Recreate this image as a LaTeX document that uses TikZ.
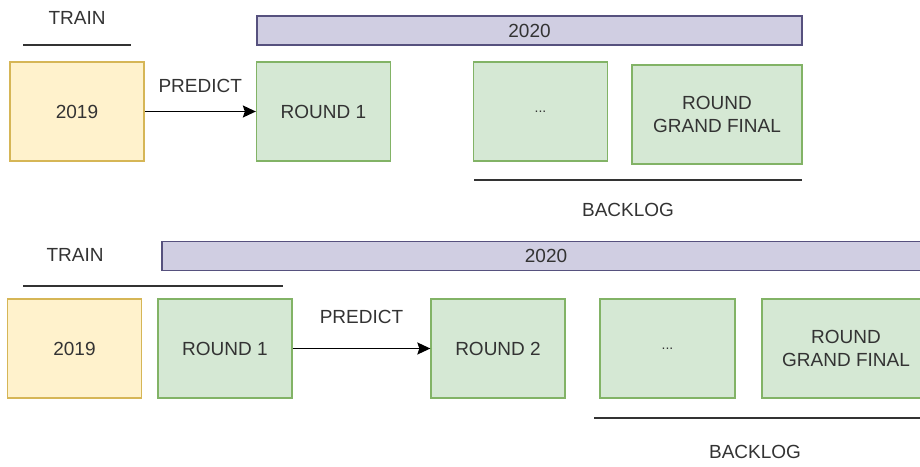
\documentclass[tikz,border=0pt]{standalone}
\usepackage{fontspec}
\setmainfont{Liberation Sans}
\usetikzlibrary{arrows.meta}

\definecolor{yfill}{HTML}{FFF2CC}
\definecolor{yline}{HTML}{D6B656}
\definecolor{gfill}{HTML}{D5E8D4}
\definecolor{gline}{HTML}{82B366}
\definecolor{pfill}{HTML}{D0CEE2}
\definecolor{pline}{HTML}{56517E}
\definecolor{ink}{HTML}{333333}

\tikzset{
    box/.style={draw, line width=1.3pt, inner sep=0pt, align=center,
        minimum height=99pt},
    yearbox/.style={box, fill=yfill, draw=yline, minimum width=134pt},
    roundbox/.style={box, fill=gfill, draw=gline, minimum width=134pt},
    yearbar/.style={draw=pline, fill=pfill, line width=1.3pt, inner sep=0pt,
        minimum height=29pt},
    lbl/.style={text=ink},
    rule/.style={line width=1.6pt, ink},
    pred/.style={-{Stealth[length=13pt, width=12pt, inset=2pt]}, line width=1.6pt},
}

\begin{document}
\begin{tikzpicture}[x=1pt, y=-1pt, font=\fontsize{19}{23}\selectfont, text=ink]
    \path[use as bounding box, clip] (0, 0) rectangle (920, 466);

    % first split
    \path (77, 18) node [lbl] (tr) {TRAIN};
    \coordinate (trl) at (23, 45);
    \coordinate (trr) at (131, 45);
    \draw [rule] (trl) -- (trr);
    \path (529.5, 30.5) node [yearbar, minimum width=545pt] (bar) {2020};
    \path (77, 111.5) node [yearbox] (yr) {2019};
    \path (323.5, 111.5) node [roundbox] (ro) {ROUND 1};
    \draw [pred] (yr) -- (ro)
        node[midway, above=15pt, lbl] {PREDICT};
    \path (540.5, 111.5) node [roundbox] (dt) {\fontsize{14}{16}\selectfont ...};
    \path (717, 114.5) node [roundbox, minimum width=170pt] (gf) {ROUND\\GRAND FINAL};
    \coordinate (bll) at (474, 180);
    \coordinate (blr) at (802, 180);
    \draw [rule] (bll) -- (blr);
    \path (628, 210) node [lbl] (bl) {BACKLOG};

    % second split
    \path (75, 255) node [lbl] (tr1) {TRAIN};
    \coordinate (trl1) at (23, 286);
    \coordinate (trr1) at (283, 286);
    \draw [rule] (trl1) -- (trr1);
    \path (546, 256) node [yearbar, minimum width=768pt] (bar1) {2020};
    \path (74.5, 348.5) node [yearbox] (yr1) {2019};
    \path (225, 348.5) node [roundbox] (ro1) {ROUND 1};
    \path (498, 348.5) node [roundbox] (rt1) {ROUND 2};
    \draw [pred] (ro1) -- (rt1)
        node[midway, above=21pt, lbl] {PREDICT};
    \path (667.5, 348.5) node [roundbox, minimum width=135pt] (dt1) {\fontsize{14}{16}\selectfont ...};
    \path (846, 348.5) node [roundbox, minimum width=168pt] (gf1) {ROUND\\GRAND FINAL};
    \coordinate (bll1) at (594, 418);
    \coordinate (blr1) at (930, 418);
    \draw [rule] (bll1) -- (blr1);
    \path (755, 452) node [lbl] (bl1) {BACKLOG};
\end{tikzpicture}
\end{document}
